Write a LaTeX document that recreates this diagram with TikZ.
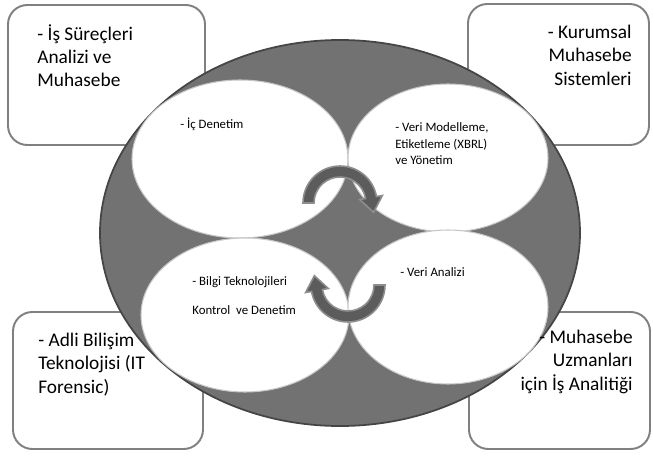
\documentclass[tikz,border=0pt]{standalone}
\usepackage{fontspec}
\setmainfont{Carlito}
\usetikzlibrary{calc}
\definecolor{ringfill}{HTML}{727272}
\definecolor{ringedge}{HTML}{454545}
\definecolor{boxedge}{HTML}{808080}
\definecolor{arrowfill}{HTML}{5C5C5C}
\definecolor{arrowedge}{HTML}{8E8E8E}
\definecolor{petaledge}{HTML}{C6C6C6}

\begin{document}
\begin{tikzpicture}[x=0.02cm, y=-0.02cm]
  \tikzstyle{corner}=[draw=boxedge, line width=1.1pt, fill=white, rounded corners=11pt]
  \tikzstyle{ring}=[draw=ringedge, line width=1pt, fill=ringfill]
  \tikzstyle{petal}=[draw=petaledge, line width=0.6pt, fill=white]
  \tikzstyle{turn}=[draw=arrowedge, line width=0.9pt, fill=arrowfill]
  \tikzstyle{cornertext}=[inner sep=0pt, font=\fontsize{11}{13.2}\selectfont]
  \tikzstyle{petaltext}=[inner sep=0pt, align=left, anchor=north west, font=\fontsize{7.3}{9.6}\selectfont]

  \useasboundingbox (0,0) rectangle (653,456);

  \draw [corner] (8,5) rectangle (205,145);
  \draw [corner] (468,4) rectangle (649,145);
  \draw [corner] (13,312) rectangle (203,449);
  \draw [corner] (469,312) rectangle (650,449);

  \draw [ring] (340,233) ellipse [x radius=240, y radius=193];

  \draw [petal] (240,159) ellipse [x radius=108, y radius=79];
  \draw [petal] (448,158) ellipse [x radius=100, y radius=74];
  \draw [petal] (245,315) ellipse [x radius=104, y radius=77];
  \draw [petal] (448,307) ellipse [x radius=100, y radius=77];

  \coordinate (ctop) at (340,203);
  \coordinate (cbot) at (348,285);

  \draw [turn] ($(ctop)+(180:37)$) arc [start angle=180, end angle=350, radius=37]
    -- ($(ctop)+(350:43)$) -- ($(ctop)+(350:31.5)+(80:15)$) -- ($(ctop)+(350:20)$)
    -- ($(ctop)+(350:26)$) arc [start angle=350, end angle=180, radius=26] -- cycle;
  \draw [turn] ($(cbot)+(0:37)$) arc [start angle=0, end angle=170, radius=37]
    -- ($(cbot)+(170:43)$) -- ($(cbot)+(170:31.5)+(260:15)$) -- ($(cbot)+(170:20)$)
    -- ($(cbot)+(170:26)$) arc [start angle=170, end angle=0, radius=26] -- cycle;

  \node (surec) [cornertext, align=left, anchor=north west] at (37,24) {- İş Süreçleri\\Analizi ve\\Muhasebe};
  \node (kurumsal) [cornertext, align=right, anchor=north east] at (632,25) {- Kurumsal\\Muhasebe\\Sistemleri};
  \node (adli) [cornertext, align=left, anchor=north west] at (38,333) {- Adli Bilişim\\Teknolojisi (IT\\Forensic)};
  \node (uzman) [cornertext, align=right, anchor=north east] at (633,330) {- Muhasebe\\Uzmanları\\için İş Analitiği};

  \node (icdenetim) [petaltext] at (180,118) {- İç Denetim};
  \node (modelleme) [petaltext] at (395,122) {- Veri Modelleme,\\Etiketleme (XBRL)\\ve Yönetim};
  \node (bilgi) [petaltext] at (192,276) {- Bilgi Teknolojileri\\[7pt]Kontrol~ ve Denetim};
  \node (analiz) [petaltext] at (400,267) {- Veri Analizi};
\end{tikzpicture}
\end{document}
